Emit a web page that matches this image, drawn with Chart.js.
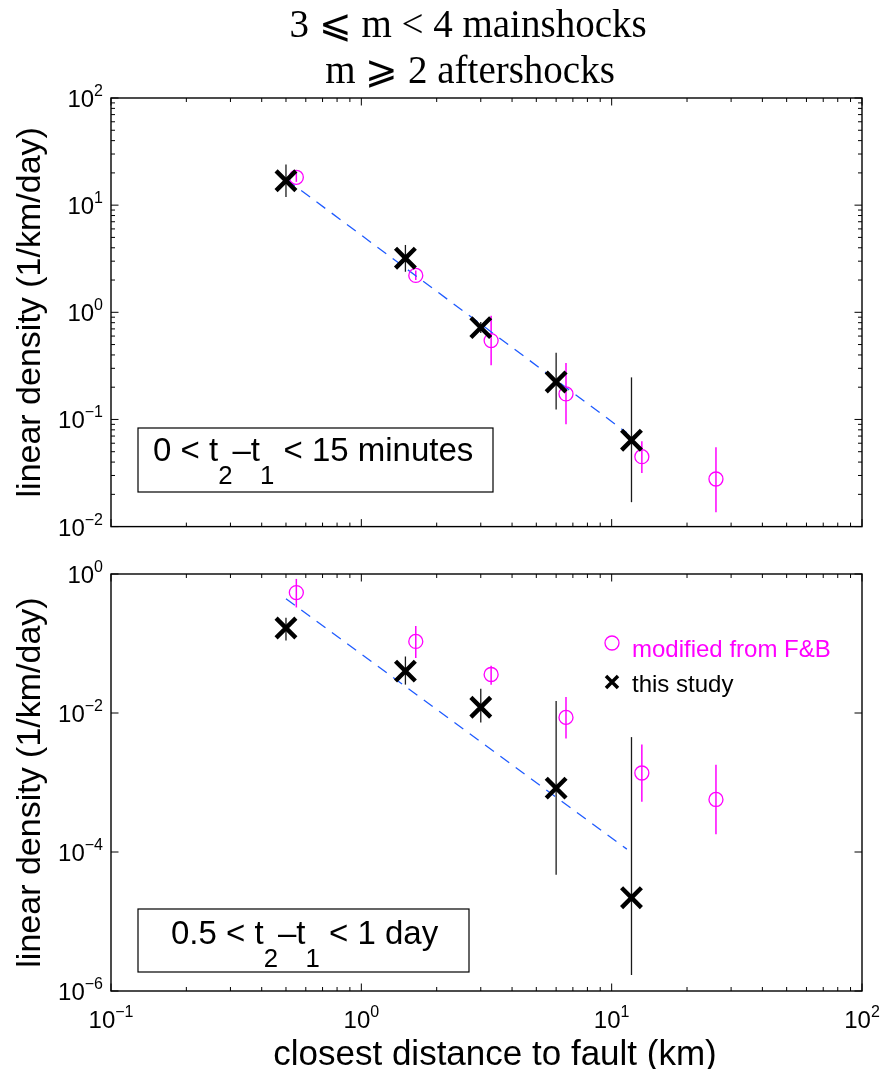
<!DOCTYPE html>
<html>
<head>
<meta charset="utf-8">
<script src="https://cdn.jsdelivr.net/npm/chart.js@4.4.1/dist/chart.umd.min.js"></script>
<style>
  html, body { margin: 0; padding: 0; background: #fff; }
  #wrap { position: relative; width: 881px; height: 1069px; }
  #topChart { position: absolute; left: 0; top: 0; }
  #botChart { position: absolute; left: 0; top: 545px; }
</style>
</head>
<body>
<div id="wrap">
  <canvas id="topChart" width="881" height="545"></canvas>
  <canvas id="botChart" width="881" height="524"></canvas>
</div>
<script>
/* =========================
   DATA
========================= */
// distances (km)
const studyDist = [0.5, 1.5, 3, 6, 12];
const fbDist = [0.55, 1.65, 3.3, 6.57, 13.2, 26.1];
const fitDist = [0.5, 11.5];

// top panel: 0 < t2-t1 < 15 minutes
const topStudy   = [16.9, 3.2, 0.72, 0.224, 0.064];
const topStudyLo = [11.9, 2.39, 0.64, 0.124, 0.0169];
const topStudyHi = [23.9, 4.25, 0.81, 0.42, 0.247];
const topFB      = [18.2, 2.21, 0.545, 0.173, 0.0449, 0.0278];
const topFBLo    = [16.5, 2.0, 0.32, 0.090, 0.0317, 0.0136];
const topFBHi    = [20.0, 2.45, 0.93, 0.336, 0.0625, 0.055];
const topFit     = [17.5, 0.075];

// bottom panel: 0.5 < t2-t1 < 1 day
const botStudy   = [0.167, 0.040, 0.0121, 8.3e-4, 2.2e-5];
const botStudyLo = [0.11, 0.0256, 0.0073, 4.7e-5, 1.7e-6];
const botStudyHi = [0.235, 0.065, 0.0224, 0.0149, 0.0045];
const botFB      = [0.54, 0.107, 0.0358, 0.00865, 0.00137, 5.7e-4];
const botFBLo    = [0.33, 0.062, 0.0256, 0.0043, 5.3e-4, 1.8e-4];
const botFBHi    = [0.85, 0.179, 0.048, 0.017, 0.00353, 0.0018];
const botFit     = [0.44, 1.1e-4];

// tick labels
const xTickVals = [0.1, 1, 10, 100];
const xTickExp = ['\u22121', '0', '1', '2'];
const topYTickVals = [0.01, 0.1, 1, 10, 100];
const topYTickExp = ['\u22122', '\u22121', '0', '1', '2'];
const botYTickVals = [1e-6, 1e-4, 1e-2, 1];
const botYTickExp = ['\u22126', '\u22124', '\u22122', '0'];

const SANS = '"Liberation Sans", Arial, Helvetica, sans-serif';
const SERIF = '"Liberation Serif", "Times New Roman", serif';
const MAGENTA = '#ff00ff';

function zip(xs, ys) {
    return xs.map((x, i) => ({ x: x, y: ys[i] }));
}

/* =========================
   TEXT HELPERS
========================= */
function drawPow(ctx, exp, x, y, align) {
    ctx.font = '24px ' + SANS;
    const wb = ctx.measureText('10').width;
    ctx.font = '16px ' + SANS;
    const we = ctx.measureText(exp).width;
    const left = align === 'right' ? x - wb - we : x - (wb + we) / 2;
    ctx.textAlign = 'left';
    ctx.textBaseline = 'alphabetic';
    ctx.font = '24px ' + SANS;
    ctx.fillText('10', left, y);
    ctx.font = '16px ' + SANS;
    ctx.fillText(exp, left + wb, y - 11);
}

function drawRuns(ctx, runs, x, y, size) {
    let cx = x;
    ctx.textAlign = 'left';
    ctx.textBaseline = 'alphabetic';
    runs.forEach(r => {
        const s = r.sub ? size * 0.78 : size;
        ctx.font = s + 'px ' + SANS;
        ctx.fillText(r.t, cx, r.sub ? y + size * 0.7 : y);
        cx += ctx.measureText(r.t).width;
    });
}

/* =========================
   PLUGINS
========================= */
const errorBarPlugin = {
    id: 'errorBars',
    beforeDatasetsDraw(chart) {
        const ctx = chart.ctx;
        const xs = chart.scales.x, ys = chart.scales.y;
        ctx.save();
        chart.data.datasets.forEach(ds => {
            if (!ds.errLo) return;
            ctx.strokeStyle = ds.errColor;
            ctx.lineWidth = ds.errWidth;
            ds.data.forEach((p, j) => {
                const px = xs.getPixelForValue(p.x);
                ctx.beginPath();
                ctx.moveTo(px, ys.getPixelForValue(ds.errLo[j]));
                ctx.lineTo(px, ys.getPixelForValue(ds.errHi[j]));
                ctx.stroke();
            });
        });
        ctx.restore();
    }
};

const axesPlugin = {
    id: 'matlabAxes',
    afterDraw(chart, args, opts) {
        const ctx = chart.ctx;
        const a = chart.chartArea;
        const xs = chart.scales.x, ys = chart.scales.y;
        ctx.save();

        // frame
        ctx.strokeStyle = '#000';
        ctx.lineWidth = 1.4;
        ctx.strokeRect(a.left, a.top, a.right - a.left, a.bottom - a.top);

        // x ticks (inward, top and bottom)
        ctx.lineWidth = 1;
        for (let d = -1; d <= 2; d++) {
            for (let k = 1; k <= 9; k++) {
                const v = k * Math.pow(10, d);
                if (v > 100) break;
                const px = xs.getPixelForValue(v);
                const len = k === 1 ? 7.5 : 4;
                ctx.beginPath();
                ctx.moveTo(px, a.bottom); ctx.lineTo(px, a.bottom - len);
                ctx.moveTo(px, a.top); ctx.lineTo(px, a.top + len);
                ctx.stroke();
            }
        }

        // y ticks
        opts.yTicks.forEach((v, i) => {
            const py = ys.getPixelForValue(v);
            ctx.beginPath();
            ctx.moveTo(a.left, py); ctx.lineTo(a.left + 7.5, py);
            ctx.moveTo(a.right, py); ctx.lineTo(a.right - 7.5, py);
            ctx.stroke();
            if (opts.yMinor && i < opts.yTicks.length - 1) {
                for (let k = 2; k <= 9; k++) {
                    const pm = ys.getPixelForValue(v * k);
                    ctx.beginPath();
                    ctx.moveTo(a.left, pm); ctx.lineTo(a.left + 4, pm);
                    ctx.moveTo(a.right, pm); ctx.lineTo(a.right - 4, pm);
                    ctx.stroke();
                }
            }
        });

        // tick labels
        ctx.fillStyle = '#000';
        opts.yTicks.forEach((v, i) => {
            drawPow(ctx, opts.yExp[i], a.left - 8, ys.getPixelForValue(v) + 9, 'right');
        });
        if (opts.xLabels) {
            xTickVals.forEach((v, i) => {
                drawPow(ctx, xTickExp[i], xs.getPixelForValue(v), a.bottom + 37, 'center');
            });
            ctx.font = '35px ' + SANS;
            ctx.textAlign = 'center';
            ctx.textBaseline = 'alphabetic';
            ctx.fillText('closest distance to fault (km)', 495, a.bottom + 74);
        }

        // y axis title
        ctx.save();
        ctx.translate(40, (a.top + a.bottom) / 2);
        ctx.rotate(-Math.PI / 2);
        ctx.font = '34px ' + SANS;
        ctx.textAlign = 'center';
        ctx.textBaseline = 'alphabetic';
        ctx.fillText('linear density (1/km/day)', 0, 0);
        ctx.restore();

        // figure title
        if (opts.title) {
            ctx.font = '39px ' + SERIF;
            ctx.textAlign = 'center';
            ctx.textBaseline = 'alphabetic';
            ctx.fillText(opts.title[0], 468, 37);
            ctx.fillText(opts.title[1], 470, 83);
        }

        // annotation box
        const b = opts.box;
        ctx.fillStyle = '#fff';
        ctx.fillRect(b.x, b.y, b.w, b.h);
        ctx.strokeStyle = '#000';
        ctx.lineWidth = 1.2;
        ctx.strokeRect(b.x, b.y, b.w, b.h);
        ctx.fillStyle = '#000';
        drawRuns(ctx, b.runs, b.tx, b.ty, 33);

        // legend
        if (opts.legend) {
            const lx = 612;
            ctx.strokeStyle = MAGENTA;
            ctx.lineWidth = 1.3;
            ctx.beginPath();
            ctx.arc(lx, 98, 7, 0, Math.PI * 2);
            ctx.stroke();
            ctx.strokeStyle = '#000';
            ctx.lineWidth = 3.5;
            ctx.beginPath();
            ctx.moveTo(lx - 6, 131); ctx.lineTo(lx + 6, 143);
            ctx.moveTo(lx + 6, 131); ctx.lineTo(lx - 6, 143);
            ctx.stroke();
            ctx.font = '24px ' + SANS;
            ctx.textAlign = 'left';
            ctx.fillStyle = MAGENTA;
            ctx.fillText('modified from F&B', 632, 112);
            ctx.fillStyle = '#000';
            ctx.fillText('this study', 632, 147);
        }
        ctx.restore();
    }
};

/* =========================
   CHART BUILDER
========================= */
function makePanel(id, cfg) {
    return new Chart(document.getElementById(id), {
        type: 'scatter',
        data: {
            datasets: [
                {
                    label: 'this study',
                    data: zip(studyDist, cfg.study),
                    errLo: cfg.studyLo, errHi: cfg.studyHi,
                    errColor: '#1a1a1a', errWidth: 1.3,
                    pointStyle: 'crossRot',
                    pointRadius: 14,
                    borderColor: '#000',
                    backgroundColor: '#000',
                    borderWidth: 4.4,
                    order: 0
                },
                {
                    label: 'modified from F&B',
                    data: zip(fbDist, cfg.fb),
                    errLo: cfg.fbLo, errHi: cfg.fbHi,
                    errColor: MAGENTA, errWidth: 1.5,
                    pointStyle: 'circle',
                    pointRadius: 7,
                    borderColor: MAGENTA,
                    backgroundColor: 'rgba(0,0,0,0)',
                    borderWidth: 1.3,
                    order: 1
                },
                {
                    type: 'line',
                    label: 'fit',
                    data: zip(fitDist, cfg.fit),
                    borderColor: '#1f5bff',
                    borderWidth: 1.3,
                    borderDash: [11, 8],
                    pointRadius: 0,
                    fill: false,
                    tension: 0,
                    order: 2
                }
            ]
        },
        options: {
            responsive: false,
            animation: false,
            devicePixelRatio: 1,
            layout: { padding: { top: cfg.padTop, right: 19, left: 0, bottom: 0 } },
            scales: {
                x: {
                    type: 'logarithmic',
                    min: 0.1, max: 100,
                    ticks: { display: false },
                    grid: { display: false },
                    border: { display: false },
                    afterFit: s => { s.height = cfg.xHeight; }
                },
                y: {
                    type: 'logarithmic',
                    min: cfg.yMin, max: cfg.yMax,
                    ticks: { display: false },
                    grid: { display: false },
                    border: { display: false },
                    afterFit: s => { s.width = 111; }
                }
            },
            plugins: {
                legend: { display: false },
                tooltip: { enabled: false },
                matlabAxes: cfg.axes
            }
        },
        plugins: [errorBarPlugin, axesPlugin]
    });
}

document.addEventListener('DOMContentLoaded', () => {
    makePanel('topChart', {
        study: topStudy, studyLo: topStudyLo, studyHi: topStudyHi,
        fb: topFB, fbLo: topFBLo, fbHi: topFBHi, fit: topFit,
        yMin: 0.01, yMax: 100, padTop: 98, xHeight: 17,
        axes: {
            yTicks: topYTickVals, yExp: topYTickExp, yMinor: true,
            title: ['3 \u2A7D m < 4 mainshocks', 'm \u2A7E 2 aftershocks'],
            box: {
                x: 138, y: 428, w: 355, h: 64, tx: 153, ty: 461,
                runs: [{ t: '0 < t' }, { t: '2', sub: true }, { t: '\u2013t' }, { t: '1', sub: true }, { t: ' < 15 minutes' }]
            }
        }
    });
    makePanel('botChart', {
        study: botStudy, studyLo: botStudyLo, studyHi: botStudyHi,
        fb: botFB, fbLo: botFBLo, fbHi: botFBHi, fit: botFit,
        yMin: 1e-6, yMax: 1, padTop: 29, xHeight: 78,
        axes: {
            yTicks: botYTickVals, yExp: botYTickExp, yMinor: false,
            xLabels: true, legend: true,
            box: {
                x: 138, y: 364, w: 331, h: 63, tx: 171, ty: 399,
                runs: [{ t: '0.5 < t' }, { t: '2', sub: true }, { t: '\u2013t' }, { t: '1', sub: true }, { t: ' < 1 day' }]
            }
        }
    });
});
</script>
</body>
</html>
